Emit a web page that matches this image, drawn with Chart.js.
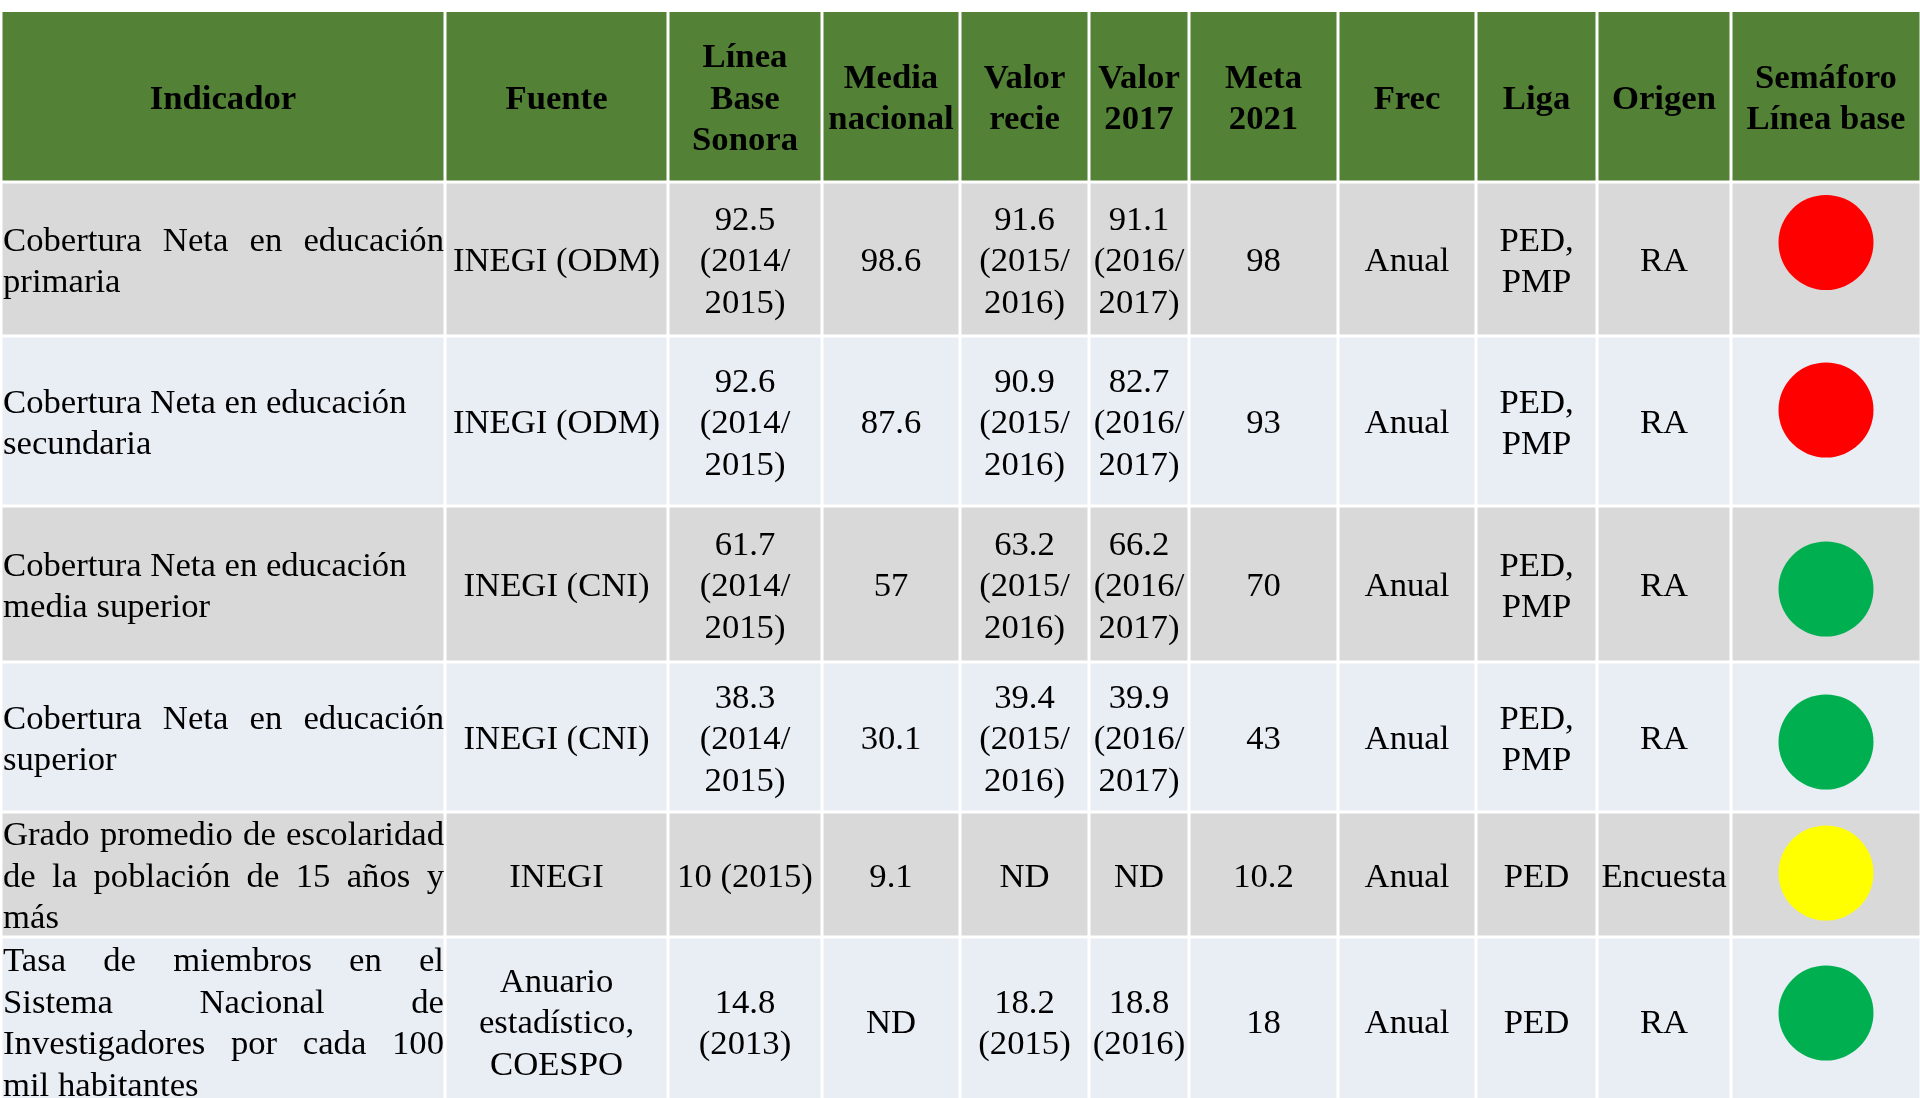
<!DOCTYPE html>
<html><head><meta charset="utf-8">
<script src="https://cdn.jsdelivr.net/npm/chart.js@4.4.1/dist/chart.umd.min.js"></script>
<style>html,body{margin:0;padding:0;background:#fff;overflow:hidden}canvas{display:block}</style>
</head><body>
<canvas id="c" width="1920" height="1098"></canvas>
<script>
// ---- DATA ----
const headers = ['Indicador','Fuente','Línea\nBase\nSonora','Media\nnacional','Valor\nrecie','Valor\n2017','Meta\n2021','Frec','Liga','Origen','Semáforo\nLínea base'];
const indicadores = [
  'Cobertura Neta en educación\nprimaria',
  'Cobertura Neta en educación\nsecundaria',
  'Cobertura Neta en educación\nmedia superior',
  'Cobertura Neta en educación\nsuperior',
  'Grado promedio de escolaridad\nde la población de 15 años y\nmás',
  'Tasa de miembros en el\nSistema Nacional de\nInvestigadores por cada 100\nmil habitantes'
];
const indicadorJustificado = [true, false, false, true, true, true];
const fuentes = ['INEGI (ODM)','INEGI (ODM)','INEGI (CNI)','INEGI (CNI)','INEGI','Anuario\nestadístico,\nCOESPO'];
const lineaBase = ['92.5\n(2014/\n2015)','92.6\n(2014/\n2015)','61.7\n(2014/\n2015)','38.3\n(2014/\n2015)','10 (2015)','14.8\n(2013)'];
const mediaNacional = ['98.6','87.6','57','30.1','9.1','ND'];
const valorReciente = ['91.6\n(2015/\n2016)','90.9\n(2015/\n2016)','63.2\n(2015/\n2016)','39.4\n(2015/\n2016)','ND','18.2\n(2015)'];
const valor2017 = ['91.1\n(2016/\n2017)','82.7\n(2016/\n2017)','66.2\n(2016/\n2017)','39.9\n(2016/\n2017)','ND','18.8\n(2016)'];
const meta2021 = ['98','93','70','43','10.2','18'];
const frecuencia = ['Anual','Anual','Anual','Anual','Anual','Anual'];
const liga = ['PED,\nPMP','PED,\nPMP','PED,\nPMP','PED,\nPMP','PED','PED'];
const origen = ['RA','RA','RA','RA','Encuesta','RA'];
const semaforo = ['rojo','rojo','verde','verde','amarillo','verde'];

// ---- LAYOUT / STYLE ----
const colEdges = [1, 445, 668, 822, 960, 1089, 1189, 1338, 1476, 1597, 1731, 1921];
const rowEdges = [10.5, 182, 336, 506, 662, 812, 937, 1105];
const circleOffset = [-16.5, -11, 5, 5, -1.5, -8];
const statusColors = {rojo:'#FF0000', verde:'#00B050', amarillo:'#FFFF00'};
const FS = 34.7, LH = 41.5;
const FONT = '"Liberation Serif", "Times New Roman", serif';
const headerBg = '#538135', rowBgA = '#D9D9D9', rowBgB = '#E9EDF4';

const columns = [indicadores, fuentes, lineaBase, mediaNacional, valorReciente, valor2017, meta2021, frecuencia, liga, origen];

const tablePlugin = {
  id: 'table',
  beforeDatasetsDraw(chart) {
    const {ctx, scales: {x, y}} = chart;
    ctx.save();
    ctx.fillStyle = '#fff';
    ctx.fillRect(0, 0, chart.width, chart.height);
    for (let r = 0; r < rowEdges.length - 1; r++) {
      ctx.fillStyle = r === 0 ? headerBg : (r % 2 === 1 ? rowBgA : rowBgB);
      const y0 = y.getPixelForValue(rowEdges[r]), y1 = y.getPixelForValue(rowEdges[r + 1]);
      for (let c = 0; c < colEdges.length - 1; c++) {
        const x0 = x.getPixelForValue(colEdges[c]), x1 = x.getPixelForValue(colEdges[c + 1]);
        ctx.fillRect(x0 + 1.5, y0 + 1.5, x1 - x0 - 3, y1 - y0 - 3);
      }
    }
    ctx.restore();
  },
  afterDatasetsDraw(chart) {
    const {ctx, scales: {x, y}} = chart;
    ctx.save();
    ctx.fillStyle = '#000';
    ctx.textBaseline = 'alphabetic';
    const drawCell = (text, c, r, bold, justify) => {
      const x0 = x.getPixelForValue(colEdges[c]), x1 = x.getPixelForValue(colEdges[c + 1]);
      const y0 = y.getPixelForValue(rowEdges[r]), y1 = y.getPixelForValue(rowEdges[r + 1]);
      const cy = (y0 + y1) / 2;
      ctx.font = (bold ? 'bold ' : '') + FS + 'px ' + FONT;
      const lines = text.split('\n');
      const n = lines.length;
      lines.forEach((ln, i) => {
        const by = cy + (i - (n - 1) / 2) * LH + 0.33 * FS + 1;
        if (c === 0 && r > 0) {
          const left = x0 + 2, right = x1 - 1;
          ctx.textAlign = 'left';
          if (justify && i < n - 1) {
            const words = ln.split(' ');
            const widths = words.map(w => ctx.measureText(w).width);
            const total = widths.reduce((a, b) => a + b, 0);
            const gap = words.length > 1 ? (right - left - total) / (words.length - 1) : 0;
            let px = left;
            words.forEach((w, k) => { ctx.fillText(w, px, by); px += widths[k] + gap; });
          } else {
            ctx.fillText(ln, left, by);
          }
        } else {
          ctx.textAlign = 'center';
          ctx.fillText(ln, (x0 + x1) / 2, by);
        }
      });
    };
    headers.forEach((h, c) => drawCell(h, c, 0, true, false));
    columns.forEach((col, c) => col.forEach((t, i) => drawCell(t, c, i + 1, false, c === 0 && indicadorJustificado[i])));
    ctx.restore();
  }
};

function draw() {
  const cx = (colEdges[10] + colEdges[11]) / 2;
  new Chart(document.getElementById('c'), {
    type: 'scatter',
    data: {
      datasets: [{
        label: 'Semáforo',
        data: semaforo.map((s, i) => ({x: cx, y: (rowEdges[i + 1] + rowEdges[i + 2]) / 2 + circleOffset[i]})),
        pointRadius: 47.5,
        pointHoverRadius: 47.5,
        pointBackgroundColor: semaforo.map(s => statusColors[s]),
        pointBorderWidth: 0,
        borderWidth: 0
      }]
    },
    options: {
      responsive: false,
      animation: false,
      events: [],
      layout: {padding: 0, autoPadding: false},
      plugins: {legend: {display: false}, tooltip: {enabled: false}},
      scales: {
        x: {type: 'linear', min: 0, max: 1920, display: false},
        y: {type: 'linear', min: 0, max: 1098, reverse: true, display: false}
      }
    },
    plugins: [tablePlugin]
  });
}
if (document.fonts && document.fonts.load) {
  Promise.all([document.fonts.load(FS + 'px "Liberation Serif"'), document.fonts.load('bold ' + FS + 'px "Liberation Serif"')]).then(draw, draw);
} else { draw(); }
</script>
</body></html>
